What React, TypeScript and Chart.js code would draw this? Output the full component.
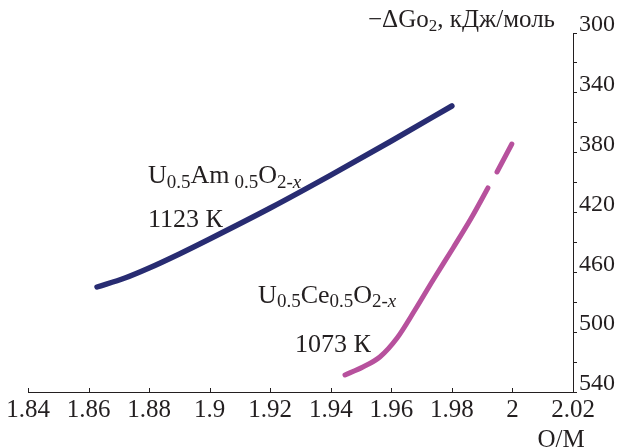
import React, { useEffect, useRef } from "react";
import { Chart, registerables } from "chart.js";

Chart.register(...registerables);

// Axis ticks
const xTicks = [1.84, 1.86, 1.88, 1.9, 1.92, 1.94, 1.96, 1.98, 2.0, 2.02];
const yTicks = [300, 320, 340, 360, 380, 400, 420, 440, 460, 480, 500, 520, 540];
const yLabels = [300, 340, 380, 420, 460, 500, 540];

// U0.5Am0.5O2-x, 1123 K
const amX = [1.8628, 1.872, 1.88, 1.89, 1.9, 1.92, 1.94, 1.96, 1.98];
const amY = [469.8, 463.8, 457.1, 447.7, 437.7, 417, 395, 372.2, 348.8];

// U0.5Ce0.5O2-x, 1073 K (gap near 1.993)
const ceX = [1.9447, 1.9506, 1.9562, 1.9619, 1.9678, 1.9738, 1.9804, 1.9866, 1.9919, 1.9934, 1.9949, 1.9998];
const ceY: (number | null)[] = [528.6, 523.3, 516.6, 503.9, 485.2, 465.1, 443.7, 423, 403.6, null, 392.9, 374.2];

const NAVY = "#282c72";
const MAGENTA = "#b7519d";
const TEXT = "#231f20";
const SERIF = '"Liberation Serif", "Times New Roman", serif';

type Run = { t: string; size: number; dy?: number; italic?: boolean; gap?: number };

function drawRuns(ctx: CanvasRenderingContext2D, x: number, y: number, runs: Run[], align: "left" | "center" = "left") {
  const measure = () => {
    let w = 0;
    for (const r of runs) {
      ctx.font = `${r.italic ? "italic " : ""}${r.size}px ${SERIF}`;
      w += ctx.measureText(r.t).width + (r.gap || 0);
    }
    return w;
  };
  let cx = align === "center" ? x - measure() / 2 : x;
  ctx.textAlign = "left";
  ctx.textBaseline = "alphabetic";
  for (const r of runs) {
    ctx.font = `${r.italic ? "italic " : ""}${r.size}px ${SERIF}`;
    ctx.fillText(r.t, cx, y + (r.dy || 0));
    cx += ctx.measureText(r.t).width + (r.gap || 0);
  }
}

const textPlugin = {
  id: "textPlugin",
  afterDraw(chart: any) {
    const ctx: CanvasRenderingContext2D = chart.ctx;
    const xs = chart.scales.x;
    const ys = chart.scales.y;
    const area = chart.chartArea;
    ctx.save();
    // inward x tick marks
    ctx.strokeStyle = TEXT;
    ctx.lineWidth = 1;
    ctx.beginPath();
    for (const v of xTicks) {
      const px = Math.round(xs.getPixelForValue(v)) + 0.5;
      ctx.moveTo(px, area.bottom);
      ctx.lineTo(px, area.bottom - 4);
    }
    ctx.stroke();

    ctx.fillStyle = TEXT;
    // Am label
    const ax = xs.getPixelForValue(1.8796);
    drawRuns(ctx, ax, ys.getPixelForValue(400.3), [
      { t: "U", size: 26 },
      { t: "0.5", size: 19, dy: 5 },
      { t: "Am", size: 26, gap: 5 },
      { t: "0.5", size: 19, dy: 5 },
      { t: "O", size: 26 },
      { t: "2-", size: 19, dy: 5 },
      { t: "x", size: 19, dy: 5, italic: true },
    ]);
    drawRuns(ctx, ax, ys.getPixelForValue(429.7), [{ t: "1123 К", size: 26 }]);

    // Ce label
    drawRuns(ctx, xs.getPixelForValue(1.916), ys.getPixelForValue(480.5), [
      { t: "U", size: 26 },
      { t: "0.5", size: 19, dy: 4 },
      { t: "Ce", size: 26 },
      { t: "0.5", size: 19, dy: 4 },
      { t: "O", size: 26 },
      { t: "2-", size: 19, dy: 4 },
      { t: "x", size: 19, dy: 4, italic: true },
    ]);
    drawRuns(ctx, xs.getPixelForValue(1.9282), ys.getPixelForValue(513.3), [{ t: "1073 К", size: 26 }]);

    // Y axis title
    drawRuns(ctx, 368, 27, [
      { t: "\u2212\u0394Go", size: 25 },
      { t: "2", size: 17, dy: 4 },
      { t: ", кДж/моль", size: 25 },
    ]);

    // X axis title
    drawRuns(ctx, 561, 447, [{ t: "O/M", size: 25 }], "center");
    ctx.restore();
  },
};

export default function App() {
  const ref = useRef<HTMLCanvasElement | null>(null);

  useEffect(() => {
    document.body.style.margin = "0";
    const canvas = ref.current;
    if (!canvas) return;
    const chart = new Chart(canvas, {
      type: "line",
      data: {
        datasets: [
          {
            label: "U0.5Am0.5O2-x 1123 K",
            data: amX.map((x, i) => ({ x, y: amY[i] })),
            borderColor: NAVY,
            borderWidth: 5.5,
            pointRadius: 0,
            cubicInterpolationMode: "monotone",
            borderCapStyle: "round",
            borderJoinStyle: "round",
            fill: false,
          },
          {
            label: "U0.5Ce0.5O2-x 1073 K",
            data: ceX.map((x, i) => ({ x, y: ceY[i] })) as any,
            borderColor: MAGENTA,
            borderWidth: 5,
            pointRadius: 0,
            cubicInterpolationMode: "monotone",
            borderCapStyle: "round",
            borderJoinStyle: "round",
            spanGaps: false,
            fill: false,
          },
        ],
      },
      options: {
        responsive: false,
        maintainAspectRatio: false,
        animation: false,
        devicePixelRatio: 1,
        layout: { padding: { left: 28, top: 33, right: 0, bottom: 0 } },
        plugins: { legend: { display: false }, tooltip: { enabled: false } },
        scales: {
          x: {
            type: "linear",
            min: 1.84,
            max: 2.02,
            afterBuildTicks: (s: any) => {
              s.ticks = xTicks.map((v) => ({ value: v }));
            },
            afterFit: (s: any) => {
              s.height = 55;
            },
            grid: { drawOnChartArea: false, drawTicks: false },
            border: { display: true, color: TEXT, width: 1 },
            ticks: {
              color: TEXT,
              padding: 3,
              maxRotation: 0,
              autoSkip: false,
              font: { family: SERIF, size: 25 },
              callback: (v: any) => String(Number(Number(v).toFixed(2))),
            },
          },
          y: {
            type: "linear",
            position: "right",
            reverse: true,
            min: 300,
            max: 540,
            afterBuildTicks: (s: any) => {
              s.ticks = yTicks.map((v) => ({ value: v }));
            },
            afterFit: (s: any) => {
              s.width = 48;
            },
            grid: { drawOnChartArea: false, drawTicks: true, tickLength: 4, color: TEXT },
            border: { display: true, color: TEXT, width: 1 },
            ticks: {
              color: TEXT,
              padding: 2,
              labelOffset: -8,
              autoSkip: false,
              font: { family: SERIF, size: 24 },
              callback: (v: any) => (yLabels.includes(Number(v)) ? String(v) : ""),
            },
          },
        },
      },
      plugins: [textPlugin],
    } as any);
    return () => chart.destroy();
  }, []);

  return (
    <div style={{ width: 621, height: 447, background: "#fff" }}>
      <canvas ref={ref} width={621} height={447} style={{ display: "block" }} />
    </div>
  );
}
